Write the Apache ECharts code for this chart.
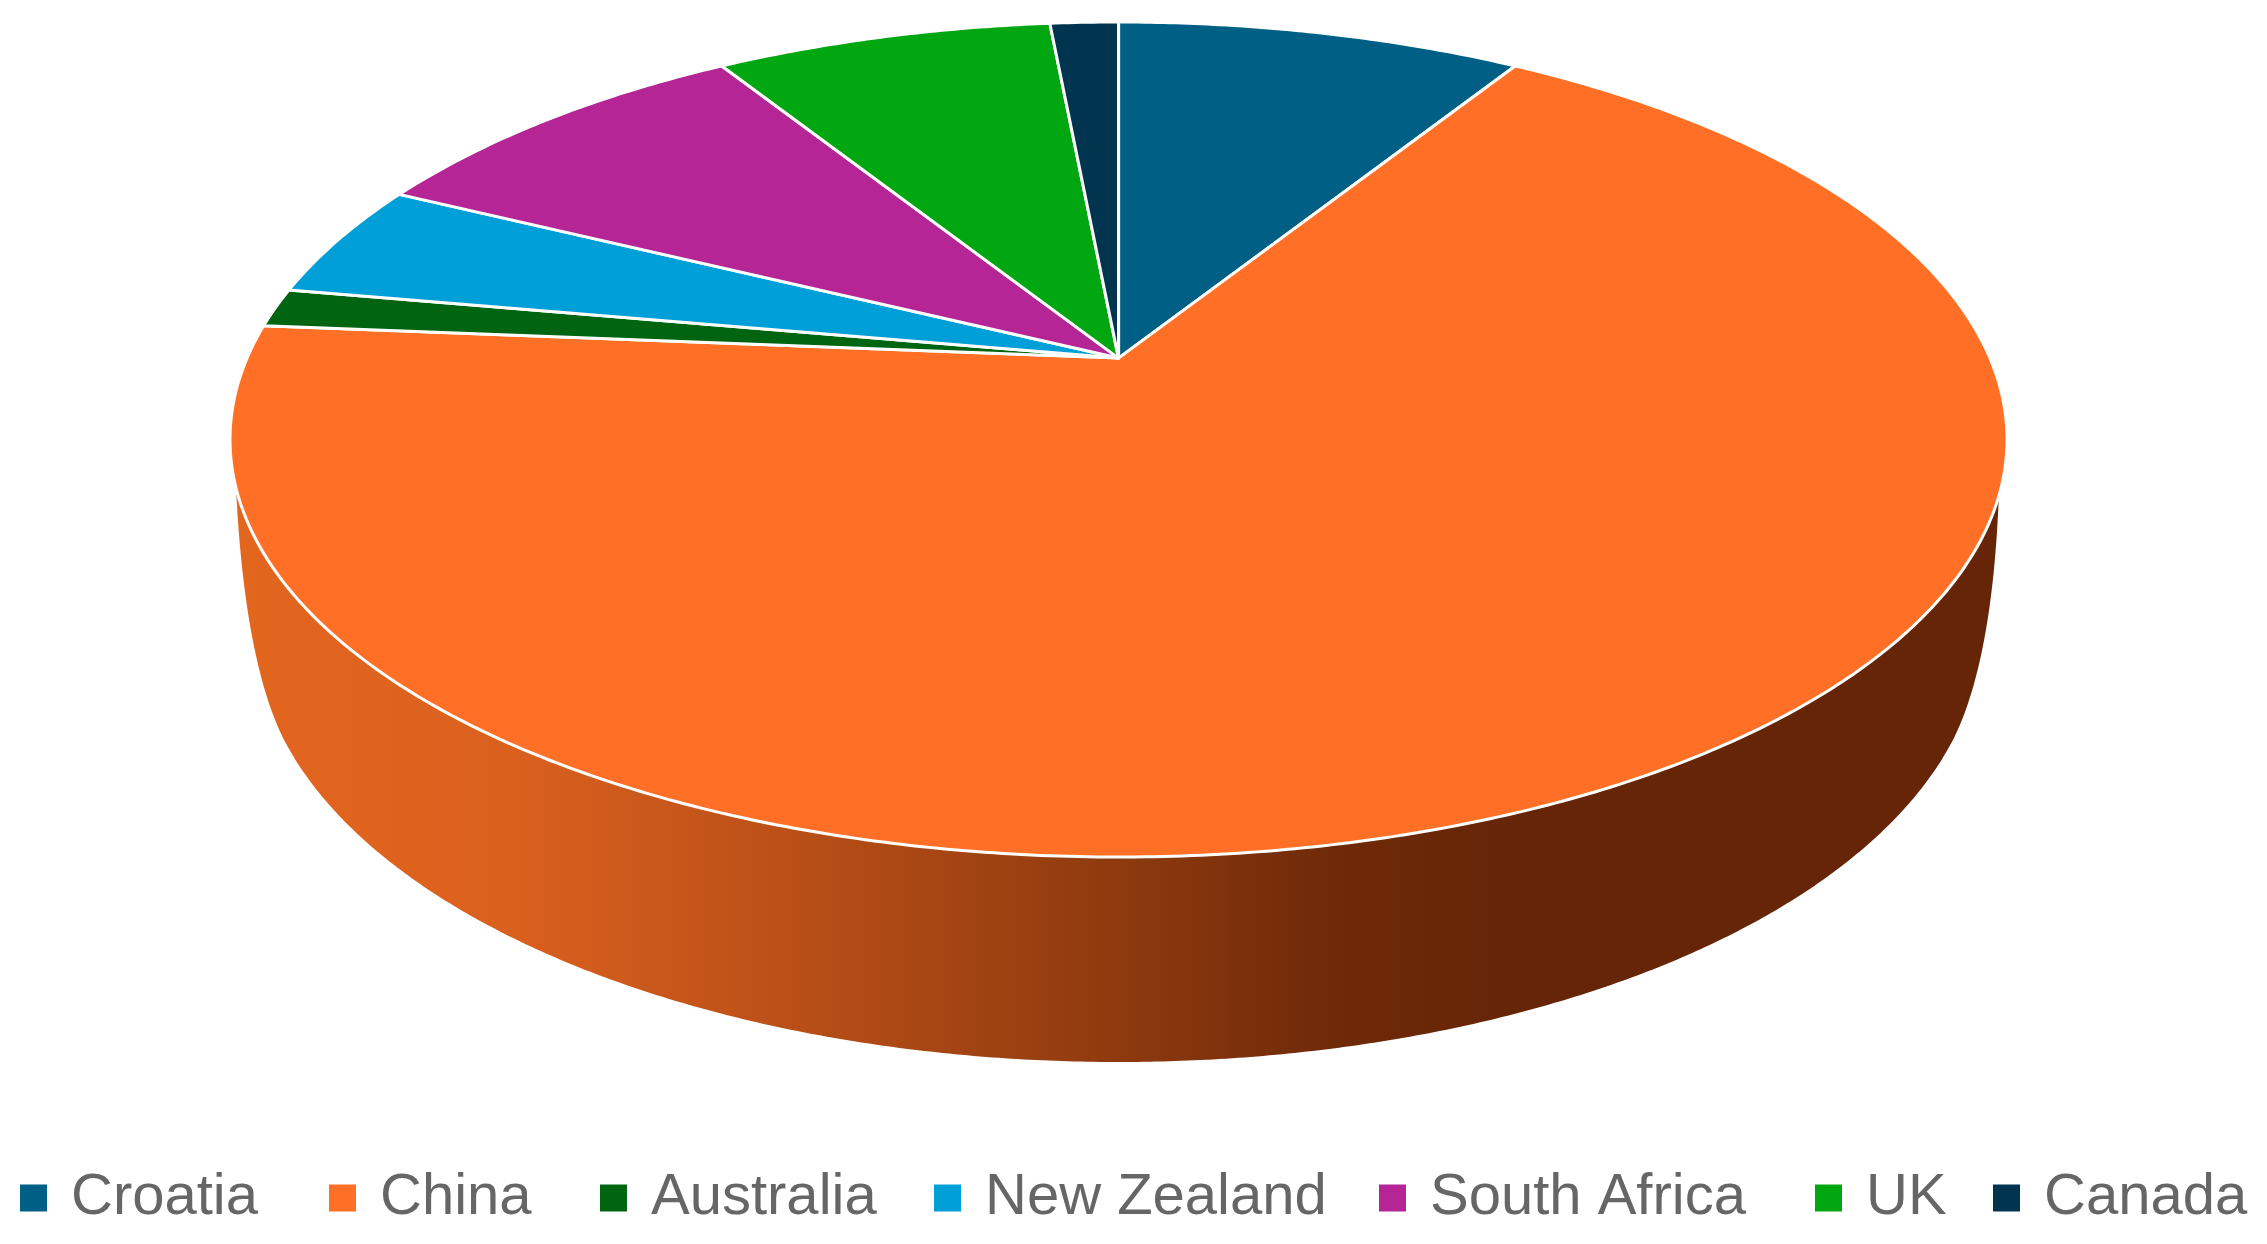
<!DOCTYPE html>
<html>
<head>
<meta charset="utf-8">
<style>html,body{margin:0;padding:0;background:#fff}#c{width:2267px;height:1244px;filter:blur(0.6px)}</style>
<script src="https://cdn.jsdelivr.net/npm/echarts@6/dist/echarts.min.js"></script>
</head>
<body>
<div id="c"></div>
<script>
const countries = ['Croatia','China','Australia','New Zealand','South Africa','UK','Canada'];
const shares = [8.9,67.4,1.5,4.5,8.8,7.4,1.5];
const colors = ['#005F85','#FF7026','#006410','#009FD8','#B52596','#00A710','#00344F'];

const total = shares.reduce((a,b)=>a+b,0);
const G = {cx:1118.5, cy:439.5, rx:888.5, ry:417.5, p:0.195};
const LOW = {cx:1118.5, cy:632, rx:862, ry:430};
const legendLeft = [20,329,600,934,1379,1815,1993];

function rim(f){
  const t = 2*Math.PI*f, u = Math.sin(t), v = Math.cos(t), d = 1+G.p*v;
  return [G.cx + G.rx*u*Math.sqrt(1-G.p*G.p)/d, G.cy - G.ry*(v+G.p)/d];
}
function arc(e,a,b,n){
  const out=[];
  for(let i=0;i<=n;i++){const t=a+(b-a)*i/n; out.push([e.cx+e.rx*Math.cos(t), e.cy+e.ry*Math.sin(t)]);}
  return out;
}
function quad(p0,c,p1,n){
  const out=[];
  for(let i=1;i<n;i++){const s=i/n,r=1-s;
    out.push([r*r*p0[0]+2*r*s*c[0]+s*s*p1[0], r*r*p0[1]+2*r*s*c[1]+s*s*p1[1]]);}
  return out;
}
function startOf(i){ return shares.slice(0,i).reduce((a,b)=>a+b,0)/total; }

const chart = echarts.init(document.getElementById('c'),null,{renderer:'canvas'});

const sliceSeries = countries.map((name,i)=>({
  type:'custom', name, coordinateSystem:'none', silent:true, animation:false, z:3,
  itemStyle:{color:colors[i]},
  data:[[shares[i]]],
  renderItem(params,api){
    const a = startOf(i), b = a + api.value(0)/total;
    const n = Math.max(8, Math.round((b-a)*720));
    const pts = [[G.cx, G.cy - G.ry*G.p]];
    for(let k=0;k<=n;k++) pts.push(rim(a+(b-a)*k/n));
    const children = [{type:'polygon', shape:{points:pts},
      style:{fill:colors[i], stroke:'#ffffff', lineWidth:3, lineJoin:'round'}}];
    if(i===0) children.push({type:'polyline', shape:{points:[pts[0],pts[1]]},
      style:{stroke:'#a9bccb', lineWidth:3.5, fill:null}});
    return {type:'group', children};
  }
}));

const wall = {
  type:'custom', name:'China side', coordinateSystem:'none', silent:true, animation:false, z:1,
  data:[[shares[1]]],
  renderItem(){
    const asinL = Math.asin((488-G.cy)/G.ry), asinR = Math.asin((496-G.cy)/G.ry);
    const top = arc(G, Math.PI-asinL, asinR, 360);
    const lowPts = arc(LOW, 0.25, Math.PI-0.25, 360);
    const right = quad(top[top.length-1],[1992.5,660],lowPts[0],24);
    const left = quad(lowPts[lowPts.length-1],[244.5,660],top[0],24);
    return {type:'polygon', shape:{points:top.concat(right,lowPts,left)},
      style:{fill:new echarts.graphic.LinearGradient(230,0,2007,0,[
        {offset:0,color:'#E3661E'},{offset:0.16,color:'#DA601E'},{offset:0.3,color:'#BD5118'},
        {offset:0.5,color:'#8E3A0E'},{offset:0.62,color:'#6F2A08'},{offset:0.72,color:'#662507'},{offset:1,color:'#662507'}
      ],true)}};
  }
};

chart.setOption({
  backgroundColor:'#fff',
  animation:false,
  legend: countries.map((name,i)=>({
    data:[name], left:legendLeft[i], top:1169, icon:'rect', itemWidth:27, itemHeight:27, selectedMode:false,
    padding:0,
    textStyle:{fontFamily:'Liberation Sans', fontSize:58, color:'#666666', padding:[0,0,7,19]}
  })),
  series:[wall].concat(sliceSeries)
});
</script>
</body>
</html>
